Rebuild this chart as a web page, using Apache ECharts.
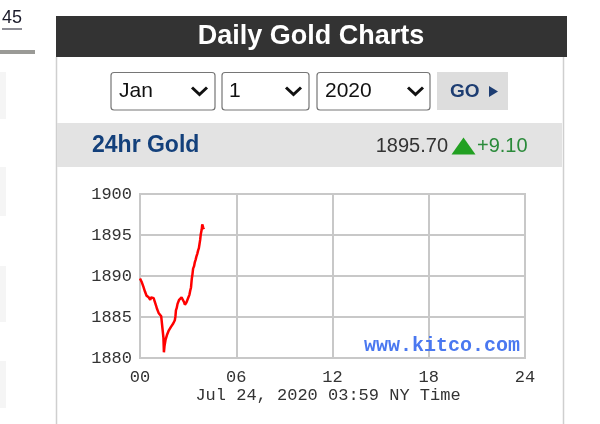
<!DOCTYPE html>
<html>
<head>
<meta charset="utf-8">
<script src="https://cdn.jsdelivr.net/npm/echarts@6/dist/echarts.min.js"></script>
<style>
html,body{margin:0;padding:0;background:#fff;}
#c{width:600px;height:424px;}
</style>
</head>
<body>
<div id="c"></div>
<script>
// Hours since midnight (NY time)
const hours = [0.00, 0.06, 0.12, 0.17, 0.21, 0.26, 0.31, 0.36, 0.41, 0.47, 0.54, 0.60, 0.64, 0.70, 0.78, 0.85, 0.90, 0.95, 1.00, 1.06, 1.11, 1.16, 1.21, 1.26, 1.32, 1.37, 1.43, 1.46, 1.49, 1.53, 1.56, 1.59, 1.64, 1.68, 1.73, 1.78, 1.85, 1.93, 2.00, 2.07, 2.12, 2.17, 2.21, 2.24, 2.29, 2.34, 2.39, 2.44, 2.52, 2.59, 2.64, 2.69, 2.75, 2.80, 2.85, 2.90, 2.96, 3.02, 3.08, 3.13, 3.18, 3.23, 3.27, 3.31, 3.37, 3.42, 3.47, 3.52, 3.57, 3.62, 3.67, 3.71, 3.75, 3.79, 3.82, 3.85, 3.88, 3.91, 3.94, 3.98];
// Gold price (USD/oz)
const prices = [1889.7, 1889.5, 1889.2, 1889.0, 1888.7, 1888.5, 1888.1, 1887.9, 1887.6, 1887.5, 1887.4, 1887.2, 1887.1, 1887.4, 1887.3, 1887.3, 1887.0, 1886.7, 1886.4, 1886.0, 1885.8, 1885.5, 1885.4, 1885.3, 1885.1, 1885.0, 1885.0, 1882.5, 1880.7, 1881.5, 1881.3, 1882.2, 1882.4, 1882.8, 1883.0, 1883.3, 1883.4, 1883.8, 1883.9, 1884.2, 1884.3, 1884.6, 1885.1, 1885.8, 1886.1, 1886.6, 1886.8, 1887.1, 1887.2, 1887.4, 1887.3, 1887.2, 1886.8, 1886.5, 1886.6, 1886.8, 1887.1, 1887.4, 1887.7, 1888.2, 1888.6, 1889.7, 1890.2, 1890.9, 1891.2, 1891.7, 1892.0, 1892.4, 1892.7, 1893.1, 1893.4, 1893.9, 1894.4, 1895.1, 1895.3, 1895.7, 1896.3, 1896.1, 1895.9, 1895.7];
const xTicks = ['00', '06', '12', '18', '24'];
const yTicks = [1880, 1885, 1890, 1895, 1900];
const headerTitle = 'Daily Gold Charts';
const monthSel = 'Jan', daySel = '1', yearSel = '2020';
const rowLabel = '24hr Gold', lastPrice = '1895.70', change = '+9.10';
const axisTitle = 'Jul 24, 2020 03:59 NY Time';
const watermark = 'www.kitco.com';

const sans = 'Liberation Sans, Arial, sans-serif';
const mono = 'Liberation Mono, DejaVu Sans Mono, monospace';

function chevron(x0, x1, y0, y1) {
  const xm = (x0 + x1) / 2;
  return {type: 'polyline', shape: {points: [[x0, y0], [xm, y1], [x1, y0]]},
    style: {stroke: '#111', lineWidth: 3, fill: null}};
}
function selBox(x, w, label, tx, cx0) {
  return [
    {type: 'rect', shape: {x: x, y: 72.5, width: w, height: 37.5, r: 3},
      style: {fill: '#fff', stroke: '#767676', lineWidth: 1.2}},
    {type: 'text', x: tx, y: 91.5, style: {text: label, font: '21px ' + sans, fill: '#111', textVerticalAlign: 'middle'}},
    chevron(cx0, cx0 + 15, 87.5, 94.5)
  ];
}

const chart = echarts.init(document.getElementById('c'), null, {renderer: 'canvas'});
const graphics = [
  // left column remnants
  {type: 'text', x: 2, y: 18, style: {text: '45', font: '18px ' + sans, fill: '#1a1a2a', textVerticalAlign: 'middle'}},
  {type: 'line', shape: {x1: 2, y1: 29, x2: 22, y2: 29}, style: {stroke: '#1a1a2a', lineWidth: 1}},
  {type: 'rect', shape: {x: 0, y: 50, width: 35, height: 4}, style: {fill: '#9a9a96'}},
  {type: 'rect', shape: {x: 0, y: 72, width: 6, height: 47}, style: {fill: '#f5f5f5'}},
  {type: 'rect', shape: {x: 0, y: 167, width: 6, height: 49}, style: {fill: '#f5f5f5'}},
  {type: 'rect', shape: {x: 0, y: 266, width: 6, height: 56}, style: {fill: '#f5f5f5'}},
  {type: 'rect', shape: {x: 0, y: 361, width: 6, height: 47}, style: {fill: '#f5f5f5'}},
  // panel borders
  {type: 'line', shape: {x1: 56.5, y1: 57, x2: 56.5, y2: 424}, style: {stroke: '#cfcfcf', lineWidth: 1.5}},
  {type: 'line', shape: {x1: 563.5, y1: 57, x2: 563.5, y2: 424}, style: {stroke: '#cfcfcf', lineWidth: 1.5}},
  // header
  {type: 'rect', shape: {x: 56, y: 16, width: 511, height: 41}, style: {fill: '#333333'}},
  {type: 'text', x: 311, y: 37, style: {text: headerTitle, font: 'bold 27px ' + sans, fill: '#fff', textAlign: 'center', textVerticalAlign: 'middle'}},
  // selectors
  ...selBox(111, 104, monthSel, 119, 192),
  ...selBox(222, 87, daySel, 229, 286),
  ...selBox(317, 113, yearSel, 325, 408),
  {type: 'rect', shape: {x: 437, y: 72, width: 71, height: 38}, style: {fill: '#dddddd'}},
  {type: 'text', x: 450, y: 92, style: {text: 'GO', font: 'bold 19px ' + sans, fill: '#1d3d72', textVerticalAlign: 'middle'}},
  {type: 'polygon', shape: {points: [[489, 86], [498, 91.5], [489, 97]]}, style: {fill: '#1d3d72'}},
  // gray band
  {type: 'rect', shape: {x: 57, y: 123, width: 505, height: 44}, style: {fill: '#e3e3e3'}},
  {type: 'text', x: 92, y: 145.5, style: {text: rowLabel, font: 'bold 23px ' + sans, fill: '#13407b', textVerticalAlign: 'middle'}},
  {type: 'text', x: 448, y: 146.5, style: {text: lastPrice, font: '20px ' + sans, fill: '#333', textAlign: 'right', textVerticalAlign: 'middle'}},
  {type: 'polygon', shape: {points: [[451.5, 154.5], [463.5, 137.5], [475.5, 154.5]]}, style: {fill: '#22a022'}},
  {type: 'text', x: 477, y: 146.5, style: {text: change, font: '20px ' + sans, fill: '#2a8a3a', textVerticalAlign: 'middle'}},
  // axis title and watermark
  {type: 'text', x: 328, y: 395.5, style: {text: axisTitle, font: '17px ' + mono, fill: '#333', textAlign: 'center', textVerticalAlign: 'middle'}},
  {type: 'text', x: 520, y: 346, z: 10, style: {text: watermark, font: 'bold 20px ' + mono, fill: '#4a78f0', textAlign: 'right', textVerticalAlign: 'middle'}}
];

chart.setOption({
  animation: false,
  backgroundColor: '#fff',
  grid: {left: 140, right: 75, top: 194, bottom: 66, show: true, borderColor: '#c8c8c8', borderWidth: 2, backgroundColor: '#fff'},
  xAxis: {
    type: 'value', min: 0, max: 24, interval: 6,
    axisLine: {show: false}, axisTick: {show: false},
    splitLine: {show: true, lineStyle: {color: '#c8c8c8', width: 2}},
    axisLabel: {margin: 11, color: '#333', fontFamily: mono, fontSize: 17,
      formatter: v => xTicks[Math.round(v / 6)]}
  },
  yAxis: {
    type: 'value', min: yTicks[0], max: yTicks[yTicks.length - 1], interval: 5,
    axisLine: {show: false}, axisTick: {show: false},
    splitLine: {show: true, lineStyle: {color: '#c8c8c8', width: 2}},
    axisLabel: {margin: 8, color: '#333', fontFamily: mono, fontSize: 17,
      formatter: v => String(v)}
  },
  series: [{
    type: 'line', data: hours.map((h, i) => [h, prices[i]]),
    showSymbol: false, symbol: 'none',
    lineStyle: {color: '#ff0000', width: 2.5},
    z: 5
  }],
  graphic: graphics
});
</script>
</body>
</html>
